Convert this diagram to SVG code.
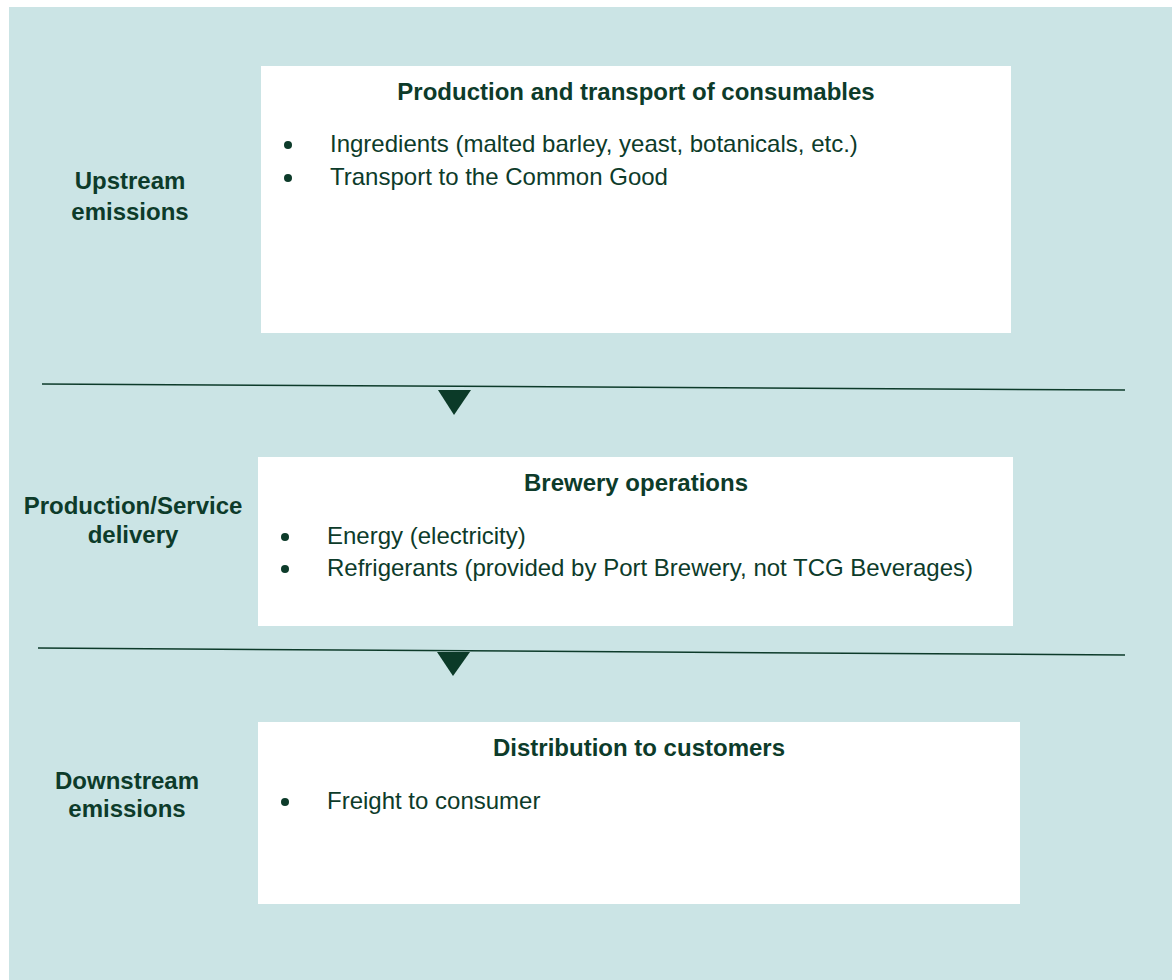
<svg xmlns="http://www.w3.org/2000/svg" width="1172" height="980" viewBox="0 0 1172 980">
  <style>
    .bg { fill: #cbe4e5; }
    .box { fill: #ffffff; }
    .lbl { font-family: "Liberation Sans", sans-serif; font-weight: bold; font-size: 24px; fill: #0d3b2a; text-anchor: middle; }
    .ttl { font-family: "Liberation Sans", sans-serif; font-weight: bold; font-size: 24px; fill: #0d3b2a; text-anchor: middle; }
    .itm { font-family: "Liberation Sans", sans-serif; font-size: 24px; fill: #0d3b2a; }
    .dot { fill: #0d3b2a; }
    .rule { stroke: #0d3b2a; stroke-width: 1.5; fill: none; }
    .tri { fill: #0b3a28; }
  </style>

  <rect class="bg" x="9" y="7" width="1163" height="973"/>

  <!-- stage labels -->
  <g id="label-upstream">
    <text class="lbl" x="130" y="189">Upstream</text>
    <text class="lbl" x="130" y="220">emissions</text>
  </g>
  <g id="label-production">
    <text class="lbl" x="133" y="514">Production/Service</text>
    <text class="lbl" x="133" y="543">delivery</text>
  </g>
  <g id="label-downstream">
    <text class="lbl" x="127" y="789">Downstream</text>
    <text class="lbl" x="127" y="817">emissions</text>
  </g>

  <!-- stage boxes -->
  <g id="node-consumables">
    <rect class="box" x="261" y="66" width="750" height="267"/>
    <text class="ttl" x="636" y="100">Production and transport of consumables</text>
    <circle class="dot" cx="288" cy="145" r="4"/>
    <text class="itm" x="330" y="152">Ingredients (malted barley, yeast, botanicals, etc.)</text>
    <circle class="dot" cx="288" cy="178" r="4"/>
    <text class="itm" x="330" y="185">Transport to the Common Good</text>
  </g>

  <g id="node-brewery">
    <rect class="box" x="258" y="457" width="755" height="169"/>
    <text class="ttl" x="636" y="491">Brewery operations</text>
    <circle class="dot" cx="285" cy="537" r="4"/>
    <text class="itm" x="327" y="544">Energy (electricity)</text>
    <circle class="dot" cx="285" cy="569" r="4"/>
    <text class="itm" x="327" y="576">Refrigerants (provided by Port Brewery, not TCG Beverages)</text>
  </g>

  <g id="node-distribution">
    <rect class="box" x="258" y="722" width="762" height="182"/>
    <text class="ttl" x="639" y="756">Distribution to customers</text>
    <circle class="dot" cx="285" cy="802" r="4"/>
    <text class="itm" x="327" y="809">Freight to consumer</text>
  </g>

  <!-- dividers with flow markers -->
  <g id="connectors">
    <line class="rule" x1="42" y1="384" x2="1125" y2="390"/>
    <polygon class="tri" points="438,390 471,390 454,415"/>
    <line class="rule" x1="38" y1="648" x2="1125" y2="655"/>
    <polygon class="tri" points="437,652 470,652 453,676"/>
  </g>
</svg>
